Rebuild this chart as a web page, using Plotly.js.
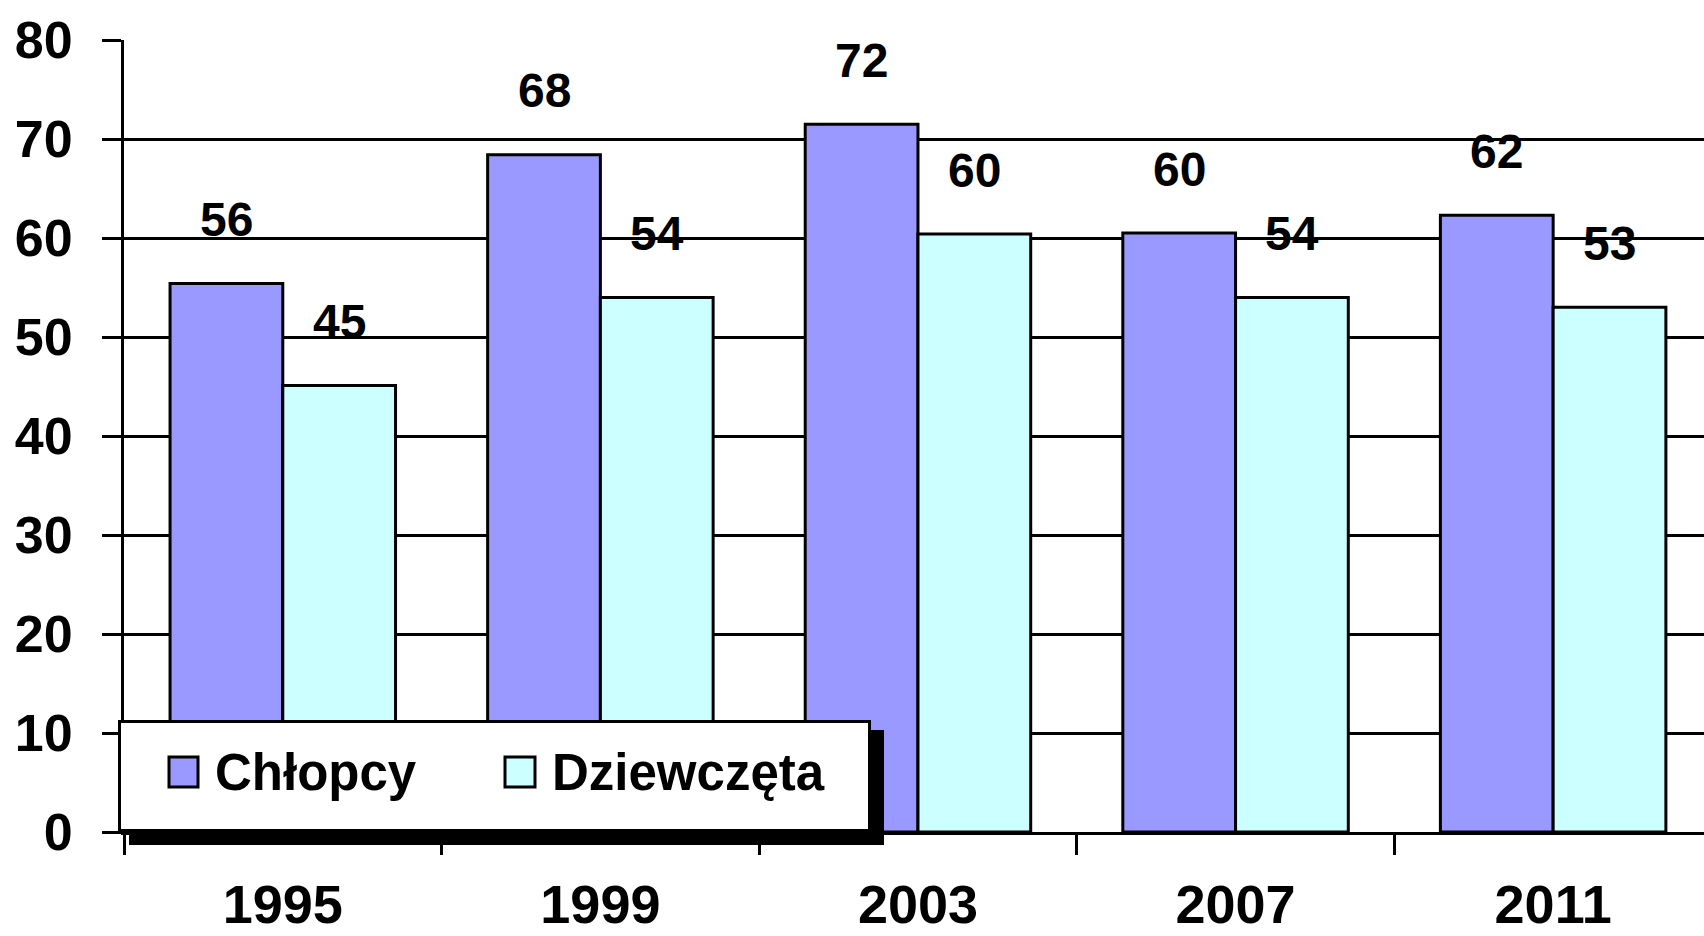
<!DOCTYPE html>
<html>
<head>
<meta charset="utf-8">
<script src="https://cdn.plot.ly/plotly-3.0.1.min.js"></script>
<style>html,body{margin:0;padding:0;background:#fff;}#chart{width:1704px;height:936px;}</style>
</head>
<body>
<div id="chart"></div>
<script>
// ---- data ----
const years = ['1995', '1999', '2003', '2007', '2011'];
const seriesNames = ['Chłopcy', 'Dziewczęta'];
const boysValues = [55.4, 68.4, 71.5, 60.5, 62.3];
const girlsValues = [45.1, 54.0, 60.4, 54.0, 53.0];
const boysLabels = ['56', '68', '72', '60', '62'];
const girlsLabels = ['45', '54', '60', '54', '53'];
const yTicks = [0, 10, 20, 30, 40, 50, 60, 70, 80];

// ---- styles ----
const FONT = 'Liberation Sans, Arial, sans-serif';
const colors = ['#9999FF', '#CCFFFF'];
const M = {l: 124, r: 0, t: 40, b: 104};
const W = 1704 - M.l - M.r, H = 936 - M.t - M.b;
const px = x => (x - M.l) / W;
const py = y => 1 - (y - M.t) / H;
const bargap = 0.29;
const off = (1 - bargap) / 4;

const traces = [
  {type: 'bar', name: seriesNames[0], x: years, y: boysValues,
   marker: {color: colors[0], line: {color: '#000', width: 3}}, showlegend: false, hoverinfo: 'skip'},
  {type: 'bar', name: seriesNames[1], x: years, y: girlsValues,
   marker: {color: colors[1], line: {color: '#000', width: 3}}, showlegend: false, hoverinfo: 'skip'}
];

const annotations = [];
years.forEach((yr, i) => {
  annotations.push({x: i - off, y: boysValues[i], xref: 'x', yref: 'y', text: boysLabels[i],
    showarrow: false, yshift: 64, yanchor: 'middle', xanchor: 'center',
    font: {family: FONT, size: 48, color: '#000', weight: 'bold'}});
  annotations.push({x: i + off, y: girlsValues[i], xref: 'x', yref: 'y', text: girlsLabels[i],
    showarrow: false, yshift: 64, yanchor: 'middle', xanchor: 'center',
    font: {family: FONT, size: 48, color: '#000', weight: 'bold'}});
});

// custom legend (box with shadow, big swatches)
const shapes = [
  {type: 'rect', xref: 'paper', yref: 'paper', layer: 'above',
   x0: px(129), x1: px(884), y0: py(730), y1: py(845), fillcolor: '#000', line: {width: 0}},
  {type: 'rect', xref: 'paper', yref: 'paper', layer: 'above',
   x0: px(119.5), x1: px(869.5), y0: py(721.5), y1: py(830.5), fillcolor: '#fff', line: {color: '#000', width: 3}},
  {type: 'rect', xref: 'paper', yref: 'paper', layer: 'above',
   x0: px(169), x1: px(198), y0: py(757), y1: py(787), fillcolor: colors[0], line: {color: '#000', width: 3}},
  {type: 'rect', xref: 'paper', yref: 'paper', layer: 'above',
   x0: px(505), x1: px(535), y0: py(757), y1: py(787), fillcolor: colors[1], line: {color: '#000', width: 3}}
];
annotations.push({x: px(213), y: py(772), xref: 'paper', yref: 'paper', text: seriesNames[0],
  showarrow: false, xanchor: 'left', yanchor: 'middle',
  font: {family: FONT, size: 51, color: '#000', weight: 'bold'}});
annotations.push({x: px(550), y: py(772), xref: 'paper', yref: 'paper', text: seriesNames[1],
  showarrow: false, xanchor: 'left', yanchor: 'middle',
  font: {family: FONT, size: 51, color: '#000', weight: 'bold'}});

const layout = {
  width: 1704, height: 936,
  margin: M,
  paper_bgcolor: '#fff', plot_bgcolor: '#fff',
  barmode: 'group', bargap: bargap, bargroupgap: 0,
  showlegend: false,
  font: {family: FONT, color: '#000'},
  xaxis: {
    type: 'category', range: [-0.5, 4.475],
    showline: true, linecolor: '#000', linewidth: 3,
    ticks: 'outside', tickson: 'boundaries', ticklen: 20, tickwidth: 3, tickcolor: '#000',
    showgrid: false, zeroline: false,
    tickfont: {family: FONT, size: 54, color: '#000', weight: 'bold'},
    ticklabelstandoff: 23
  },
  yaxis: {
    range: [0, 80], tickvals: yTicks,
    showline: true, linecolor: '#000', linewidth: 3,
    ticks: 'outside', ticklen: 19, tickwidth: 3, tickcolor: '#000',
    showgrid: true, gridcolor: '#000', gridwidth: 3, zeroline: false,
    tickfont: {family: FONT, size: 52, color: '#000', weight: 'bold'},
    ticklabelstandoff: 19
  },
  shapes: shapes,
  annotations: annotations
};

Plotly.newPlot('chart', traces, layout, {displayModeBar: false, staticPlot: true});
</script>
</body>
</html>
